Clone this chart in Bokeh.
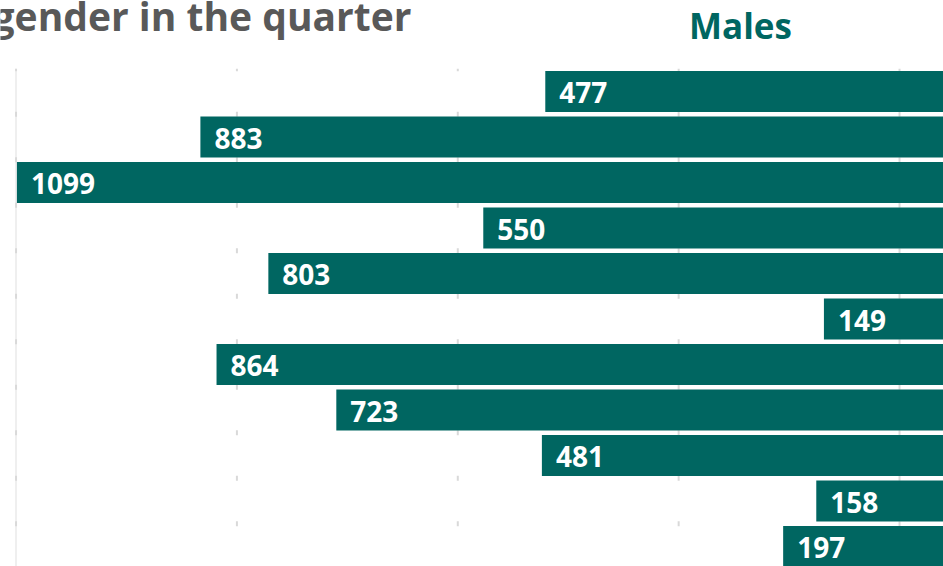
from bokeh.plotting import figure
from bokeh.models import Range1d, Label, ColumnDataSource
from bokeh.embed import file_html
from bokeh.resources import INLINE
import numpy as np

# ---- data (Males, top to bottom) ----
male_values = [477, 883, 1099, 550, 803, 149, 864, 723, 481, 158, 197]
grid_values = [1100, 840, 580, 320, 60]
title_text = "gender in the quarter"
series_name = "Males"

TEAL = "#006661"
GRAY = "#595959"

# ---- layout helpers (reference pixel -> data) ----
ZERO_PX = 950.0
PX_PER_UNIT = 0.8495
ROW0_PX = 91.0
ROW_PITCH = 45.5
ORIGIN = 0


def xd(px):
    return (ZERO_PX - px) / PX_PER_UNIT


def yd(py):
    return (py - ROW0_PX) / ROW_PITCH


W, H = 943, 566
p = figure(width=W, height=H, output_backend="svg", toolbar_location=None,
           x_range=Range1d(xd(ORIGIN), xd(ORIGIN + W)),
           y_range=Range1d(yd(ORIGIN + H), yd(ORIGIN)),
           min_border=0, min_border_left=0, min_border_right=0,
           min_border_top=0, min_border_bottom=0)
p.axis.visible = False
p.xgrid.visible = False
p.ygrid.visible = False
p.outline_line_color = None
p.background_fill_color = "white"
p.border_fill_color = "white"

pos = np.arange(len(male_values))

# faint axis line at the far grid value
p.segment(x0=[grid_values[0]], x1=[grid_values[0]], y0=[-0.5], y1=[len(male_values) - 0.5],
          line_color="#efefef", line_width=2)

# grid marks at row boundaries
bounds = np.arange(len(male_values) + 1) - 0.5
gx, gy0, gy1 = [], [], []
for g in grid_values:
    for b in bounds:
        gx.append(g)
        gy0.append(max(b - 0.055, -0.5))
        gy1.append(b + 0.055)
p.segment(x0=gx, x1=gx, y0=gy0, y1=gy1, line_color="#d9d9d9", line_width=2)

src = ColumnDataSource(dict(y=pos, v=male_values, lab=[str(v) for v in male_values]))
p.hbar(y="y", left=0, right="v", height=0.9, source=src, fill_color=TEAL, line_color=None)
p.text(x="v", y="y", text="lab", source=src, text_color="white", text_font_size="28px",
       text_font_style="bold", text_align="left", text_baseline="middle",
       x_offset=14, y_offset=1, text_font={"value": "Open Sans"})

p.add_layout(Label(x=xd(411), y=yd(15), text=title_text, text_font="Open Sans",
                   text_font_size="39px", text_font_style="bold", text_color=GRAY,
                   text_align="right", text_baseline="alphabetic"))
p.add_layout(Label(x=xd(740), y=yd(25), text=series_name, text_font="Open Sans",
                   text_font_size="35px", text_font_style="bold", text_color=TEAL,
                   text_align="center", text_baseline="alphabetic"))

open("out.html", "w").write(file_html(p, INLINE))
